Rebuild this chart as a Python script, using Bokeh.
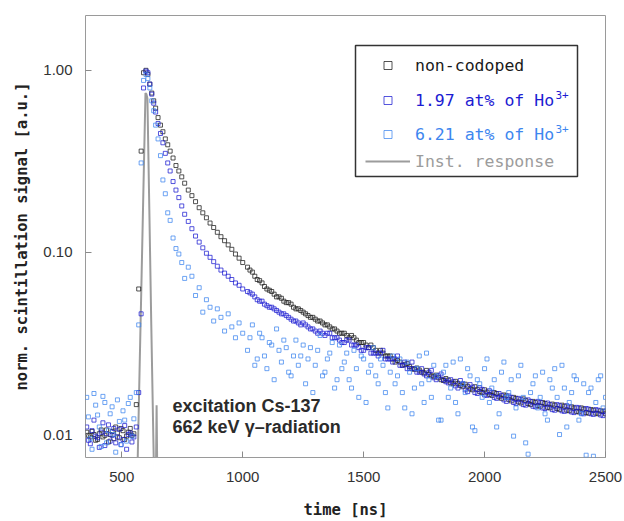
from bokeh.plotting import figure
from bokeh.models import (FixedTicker, PrintfTickFormatter,
                          Legend, LegendItem, Label, BoxAnnotation, Range1d)
from bokeh.embed import file_html
from bokeh.resources import INLINE

# ---------------- data ----------------
T_BASE = [355, 370, 385, 400, 415, 430, 445, 460, 475, 490, 505, 520, 535, 550]
T_BASE_B = [362, 377, 392, 407, 422, 437, 452, 467, 482, 497, 512, 527, 542]
T_RISE = [560, 570, 580, 590, 600, 608]
T_DECAY = [616, 624, 632, 640, 650, 660, 670, 680, 690, 700, 712, 724, 736, 748, 760,
           775, 790, 805, 820, 835, 850, 865, 880, 895, 910, 925, 940, 955, 970, 985, 1000]
T_TAIL = [1020, 1040, 1060, 1080, 1100, 1120, 1140, 1160, 1180, 1200,
          1220, 1240, 1260, 1280, 1300, 1320, 1340, 1360, 1380, 1400,
          1420, 1440, 1460, 1480, 1500, 1520, 1540, 1560, 1580, 1600,
          1620, 1640, 1660, 1680, 1700, 1720, 1740, 1760, 1780, 1800,
          1820, 1840, 1860, 1880, 1900, 1920, 1940, 1960, 1980, 2000,
          2020, 2040, 2060, 2080, 2100, 2120, 2140, 2160, 2180, 2200,
          2220, 2240, 2260, 2280, 2300, 2320, 2340, 2360, 2380, 2400,
          2420, 2440, 2460, 2480, 2500]
T_TAIL_B = [1030, 1050, 1070, 1090, 1110, 1130, 1150, 1170, 1190, 1210,
            1230, 1250, 1270, 1290, 1310, 1330, 1350, 1370, 1390, 1410,
            1430, 1450, 1470, 1490, 1510, 1530, 1550, 1570, 1590, 1610,
            1630, 1650, 1670, 1690, 1710, 1730, 1750, 1770, 1790, 1810,
            1830, 1850, 1870, 1890, 1910, 1930, 1950, 1970, 1990, 2010,
            2030, 2050, 2070, 2090, 2110, 2130, 2150, 2170, 2190, 2210,
            2230, 2250, 2270, 2290, 2310, 2330, 2350, 2370, 2390, 2410,
            2430, 2450, 2470, 2490]

NC_BASE = [0.0103, 0.0097, 0.0100, 0.0094, 0.0106, 0.0099, 0.0091, 0.0104, 0.0110, 0.0096,
           0.0105, 0.0098, 0.0108, 0.0101]
NC_BASE_B = [0.0099, 0.0104, 0.0093, 0.0101, 0.0097, 0.0106, 0.0100, 0.0095, 0.0102, 0.0108,
             0.0094, 0.0103, 0.0099]
NC_RISE = [0.0146, 0.063, 0.36, 0.97, 1.00, 0.95]
NC_DECAY = [0.84, 0.75, 0.68, 0.62, 0.55, 0.50, 0.46, 0.42, 0.39, 0.36, 0.33, 0.30, 0.28, 0.26,
            0.24, 0.22, 0.205, 0.19, 0.176, 0.165, 0.155, 0.145, 0.137, 0.129, 0.122, 0.116,
            0.110, 0.104, 0.098, 0.093, 0.088]
NC_TAIL = [0.083, 0.078, 0.071, 0.068, 0.063, 0.061, 0.057, 0.056, 0.053, 0.052,
           0.049, 0.048, 0.046, 0.044, 0.043, 0.042, 0.040, 0.039, 0.038, 0.036,
           0.036, 0.034, 0.034, 0.032, 0.032, 0.030, 0.030, 0.028, 0.028, 0.027,
           0.026, 0.0255, 0.024, 0.0245, 0.023, 0.0232, 0.022, 0.0225, 0.021, 0.0212,
           0.020, 0.0203, 0.0192, 0.0196, 0.0186, 0.0189, 0.0178, 0.0183, 0.0172, 0.0176,
           0.0166, 0.0170, 0.0161, 0.0165, 0.0156, 0.0160, 0.0151, 0.0157, 0.0148, 0.0152,
           0.0144, 0.0150, 0.0141, 0.0147, 0.0139, 0.0145, 0.0136, 0.0142, 0.0134, 0.0140,
           0.0132, 0.0137, 0.0131, 0.0135, 0.0130]
NC_TAIL_B = [0.080, 0.074, 0.070, 0.065, 0.062, 0.059, 0.057, 0.054, 0.053, 0.050,
             0.049, 0.047, 0.045, 0.044, 0.042, 0.041, 0.040, 0.038, 0.037, 0.036,
             0.035, 0.035, 0.033, 0.032, 0.031, 0.031, 0.029, 0.029, 0.027, 0.027,
             0.025, 0.025, 0.0242, 0.0236, 0.0228, 0.0226, 0.0218, 0.0214, 0.0209, 0.0205,
             0.0198, 0.0199, 0.0190, 0.0191, 0.0183, 0.0184, 0.0176, 0.0177, 0.0170, 0.0171,
             0.0164, 0.0168, 0.0158, 0.0163, 0.0153, 0.0158, 0.0149, 0.0154, 0.0146, 0.0150,
             0.0143, 0.0148, 0.0140, 0.0145, 0.0137, 0.0143, 0.0135, 0.0140, 0.0133, 0.0138,
             0.0131, 0.0136, 0.0130, 0.0134]

HO197_BASE = [0.0110, 0.0089, 0.0120, 0.0096, 0.0103, 0.0087, 0.0113, 0.0099, 0.0090, 0.0107,
              0.0094, 0.0083, 0.0102, 0.0097]
HO197_BASE_B = [0.0093, 0.0105, 0.0098, 0.0085, 0.0116, 0.0101, 0.0092, 0.0108, 0.0097, 0.0088,
                0.0112, 0.0100, 0.0091]
HO197_RISE = [0.011, 0.017, 0.046, 0.80, 0.99, 0.97]
HO197_DECAY = [0.84, 0.74, 0.66, 0.59, 0.51, 0.45, 0.40, 0.35, 0.31, 0.28, 0.245, 0.22, 0.20,
               0.18, 0.162, 0.148, 0.135, 0.123, 0.114, 0.106, 0.099, 0.094, 0.089, 0.084,
               0.080, 0.077, 0.074, 0.071, 0.068, 0.066, 0.063]
HO197_TAIL = [0.061, 0.059, 0.055, 0.054, 0.051, 0.050, 0.048, 0.046, 0.045, 0.043,
              0.042, 0.040, 0.040, 0.038, 0.037, 0.037, 0.035, 0.036, 0.034, 0.033,
              0.032, 0.033, 0.031, 0.030, 0.029, 0.030, 0.028, 0.027, 0.029, 0.026,
              0.025, 0.027, 0.024, 0.023, 0.025, 0.022, 0.023, 0.021, 0.0225, 0.020,
              0.0215, 0.0195, 0.020, 0.0185, 0.0198, 0.0176, 0.0188, 0.0170, 0.0181, 0.0165,
              0.0174, 0.0160, 0.0168, 0.0155, 0.0163, 0.0150, 0.0158, 0.0146, 0.0155, 0.0143,
              0.0152, 0.0140, 0.0149, 0.0137, 0.0146, 0.0135, 0.0144, 0.0133, 0.0141, 0.0131,
              0.0139, 0.0130, 0.0137, 0.0128, 0.0135]
HO197_TAIL_B = [0.060, 0.057, 0.054, 0.052, 0.050, 0.049, 0.047, 0.046, 0.044, 0.042,
                0.041, 0.041, 0.039, 0.038, 0.036, 0.036, 0.036, 0.034, 0.034, 0.032,
                0.033, 0.031, 0.031, 0.029, 0.030, 0.028, 0.028, 0.028, 0.026, 0.026,
                0.026, 0.024, 0.025, 0.023, 0.023, 0.022, 0.0215, 0.022, 0.0205, 0.021,
                0.0200, 0.0192, 0.0195, 0.0180, 0.0190, 0.0172, 0.0182, 0.0168, 0.0177, 0.0164,
                0.0170, 0.0158, 0.0164, 0.0152, 0.0160, 0.0148, 0.0156, 0.0145, 0.0152, 0.0142,
                0.0150, 0.0139, 0.0146, 0.0136, 0.0144, 0.0134, 0.0142, 0.0132, 0.0140, 0.0130,
                0.0138, 0.0129, 0.0136, 0.0127]

HO621_BASE = [0.0160, 0.0095, 0.0168, 0.0128, 0.0086, 0.0150, 0.0105, 0.0142, 0.0080, 0.0118,
              0.0135, 0.0092, 0.0160, 0.0122]
HO621_BASE_B = [0.0125, 0.0083, 0.0145, 0.0110, 0.0162, 0.0090, 0.0130, 0.0100, 0.0155, 0.0088,
                0.0120, 0.0148, 0.0098]
HO621_RISE = [0.017, 0.040, 0.31, 0.88, 0.95, 0.90]
HO621_DECAY = [0.80, 0.68, 0.60, 0.50, 0.42, 0.34, 0.25, 0.21, 0.165, 0.15, 0.12, 0.105, 0.098,
               0.088, 0.072, 0.083, 0.074, 0.058, 0.064, 0.047, 0.055, 0.050, 0.042, 0.049,
               0.044, 0.037, 0.046, 0.039, 0.034, 0.041, 0.036]
HO621_TAIL = [0.029, 0.040, 0.026, 0.034, 0.023, 0.031, 0.038, 0.025, 0.030, 0.021,
              0.033, 0.027, 0.019, 0.030, 0.024, 0.035, 0.022, 0.028, 0.018, 0.031,
              0.025, 0.020, 0.029, 0.016, 0.026, 0.022, 0.030, 0.019, 0.024, 0.014,
              0.027, 0.021, 0.017, 0.025, 0.013, 0.023, 0.019, 0.028, 0.016, 0.021,
              0.012, 0.024, 0.018, 0.015, 0.026, 0.017, 0.021, 0.0105, 0.019, 0.023,
              0.015, 0.020, 0.013, 0.025, 0.017, 0.0098, 0.021, 0.016, 0.0078, 0.019,
              0.014, 0.022, 0.012, 0.018, 0.016, 0.024, 0.011, 0.017, 0.020, 0.013,
              0.0077, 0.018, 0.015, 0.021, 0.016]
HO621_TAIL_B = [0.034, 0.024, 0.036, 0.027, 0.032, 0.020, 0.029, 0.033, 0.022, 0.027,
                0.024, 0.031, 0.026, 0.017, 0.029, 0.021, 0.026, 0.032, 0.020, 0.023,
                0.028, 0.018, 0.023, 0.027, 0.015, 0.024, 0.021, 0.026, 0.017, 0.022,
                0.019, 0.026, 0.014, 0.022, 0.018, 0.027, 0.015, 0.020, 0.024, 0.012,
                0.022, 0.016, 0.025, 0.013, 0.019, 0.023, 0.011, 0.020, 0.016, 0.026,
                0.018, 0.011, 0.022, 0.016, 0.020, 0.014, 0.024, 0.009, 0.017, 0.021,
                0.016, 0.013, 0.020, 0.023, 0.010, 0.018, 0.015, 0.021, 0.012, 0.019,
                0.017, 0.0076, 0.020, 0.014]

T_IRF = [540, 560, 566, 574, 582, 590, 598, 602, 606, 614, 622, 632, 636, 640, 644, 648, 652, 680]
V_IRF = [0.002, 0.003, 0.0075, 0.024, 0.075, 0.24, 0.75, 0.74, 0.70, 0.17, 0.04, 0.0075,
         0.003, 0.004, 0.0145, 0.004, 0.002, 0.002]

X_TICKS = [500, 1000, 1500, 2000, 2500]
Y_TICKS = [0.01, 0.1, 1.0]

LABELS = ["non-codoped", "1.97 at% of Ho", "6.21 at% of Ho", "Inst. response"]
SUPERSCRIPT = "3+"
COLORS = ["#1a1a1a", "#1c1cd2", "#3d86ef", "#9c9c9c"]

T = T_BASE + T_BASE_B + T_RISE + T_DECAY + T_TAIL + T_TAIL_B
series = [NC_BASE + NC_BASE_B + NC_RISE + NC_DECAY + NC_TAIL + NC_TAIL_B,
          HO197_BASE + HO197_BASE_B + HO197_RISE + HO197_DECAY + HO197_TAIL + HO197_TAIL_B,
          HO621_BASE + HO621_BASE_B + HO621_RISE + HO621_DECAY + HO621_TAIL + HO621_TAIL_B]

# ---------------- figure ----------------
p = figure(width=624, height=521, x_range=Range1d(350, 2500), y_range=Range1d(0.00748, 2.0),
           y_axis_type="log", output_backend="svg", toolbar_location=None,
           min_border_left=85, min_border_right=19, min_border_top=15, min_border_bottom=62)
p.grid.visible = False
p.outline_line_color = "#9a9a9a"
p.outline_line_width = 1

irf = p.line(T_IRF, V_IRF, line_color=COLORS[3], line_width=2)
renderers = []
for vals, col in zip(series, COLORS[:3]):
    r = p.scatter(T, vals, marker="square", size=4, fill_alpha=0, line_color=col,
                  line_width=1, line_alpha=0.75)
    renderers.append(r)

xa = p.xaxis[0]
ya = p.yaxis[0]
xa.ticker = FixedTicker(ticks=X_TICKS)
ya.ticker = FixedTicker(ticks=Y_TICKS)
ya.formatter = PrintfTickFormatter(format="%.2f")
xa.axis_label = "time [ns]"
ya.axis_label = "norm. scintillation signal [a.u.]"
for ax in (xa, ya):
    ax.axis_line_color = None
    ax.major_tick_in = 6
    ax.major_tick_out = 0
    ax.minor_tick_line_color = None
    ax.major_tick_line_color = "#8a8a8a"
    ax.major_label_text_font = "Liberation Sans"
    ax.major_label_text_font_size = "15px"
    ax.major_label_text_color = "#333333"
    ax.axis_label_text_font = "DejaVu Sans Mono"
    ax.axis_label_text_font_style = "bold"
    ax.axis_label_text_font_size = "15.5px"
    ax.axis_label_text_color = "#222222"
xa.major_label_standoff = 14
xa.axis_label_standoff = 16
ya.major_label_standoff = 13
ya.axis_label_standoff = 9

# annotation text
p.add_layout(Label(x=710, y=0.0144, text="excitation Cs-137", text_font="Liberation Sans",
                   text_font_style="bold", text_font_size="18px", text_color="#2b2b2b",
                   text_baseline="middle"))
p.add_layout(Label(x=710, y=0.011, text="662 keV \u03b3\u2013radiation", text_font="Liberation Sans",
                   text_font_style="bold", text_font_size="18px", text_color="#2b2b2b",
                   text_baseline="middle"))

# legend frame + one legend per row (to colour each label)
p.add_layout(BoxAnnotation(left=270, right=492, bottom=281, top=412,
                           left_units="screen", right_units="screen",
                           top_units="screen", bottom_units="screen",
                           fill_color="white", fill_alpha=1.0,
                           line_color="#333333", line_alpha=1.0, line_width=1.5))
row_locs = [(280, 382), (280, 347), (280, 313), (280, 286)]
for lab, col, rend, loc in zip(LABELS, COLORS, renderers + [irf], row_locs):
    lg = Legend(items=[LegendItem(label=lab, renderers=[rend])], location=loc,
                padding=0, margin=0, spacing=0, border_line_color=None,
                background_fill_alpha=0, glyph_width=45, glyph_height=20,
                label_height=20, label_standoff=5, label_text_font="DejaVu Sans Mono",
                label_text_font_size="16.5px", label_text_color=col)
    p.add_layout(lg)
# superscripts "3+" after "Ho"
for col, loc in zip(COLORS[1:3], row_locs[1:3]):
    p.add_layout(Label(x=loc[0] + 190, y=loc[1] + 16, x_units="screen", y_units="screen",
                       text=SUPERSCRIPT, text_font="DejaVu Sans Mono", text_font_size="11px",
                       text_color=col, text_baseline="middle"))

open("out.html", "w").write(file_html(p, INLINE))
